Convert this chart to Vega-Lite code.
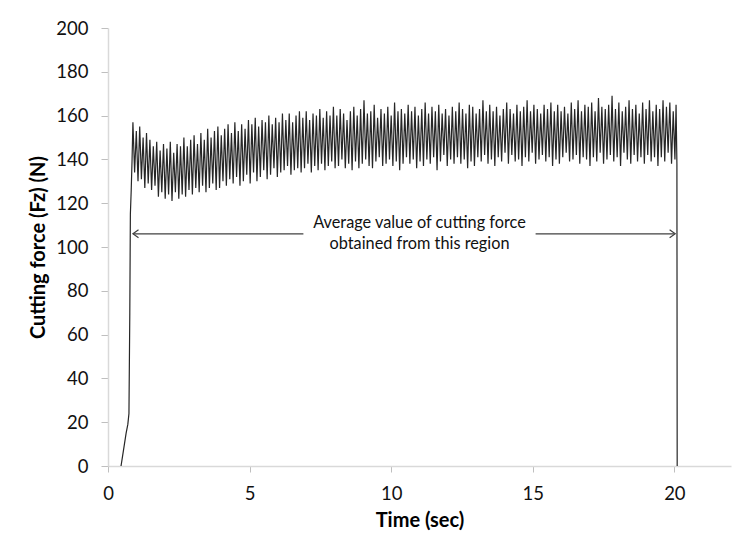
{
  "$schema": "https://vega.github.io/schema/vega-lite/v6.json",
  "width": 623,
  "height": 438,
  "autosize": {"type": "none"},
  "padding": {"left": 108, "top": 28, "right": 13, "bottom": 81},
  "background": "white",
  "config": {
    "font": "Lato",
    "view": {"stroke": null},
    "axis": {"grid": false, "domainColor": "#d9d9d9", "tickColor": "#bfbfbf", "labelColor": "#111", "titleColor": "#000", "labelFont": "Lato", "titleFont": "Lato"}
  },
  "datasets": {
    "signal": [
      {"t":0.46,"f":0},{"t":0.52,"f":5},{"t":0.58,"f":10},{"t":0.64,"f":15},{"t":0.7,"f":19},{"t":0.74,"f":24},{"t":0.77,"f":70},{"t":0.79,"f":115},{"t":0.82,"f":126},{"t":0.85,"f":140},
      {"t":0.88,"f":157},{"t":0.94,"f":134},{"t":1.00,"f":153},{"t":1.06,"f":130},{"t":1.12,"f":155},{"t":1.18,"f":131},{"t":1.24,"f":150},{"t":1.30,"f":127},{"t":1.36,"f":152},{"t":1.42,"f":129},
      {"t":1.48,"f":149},{"t":1.54,"f":126},{"t":1.60,"f":146},{"t":1.66,"f":128},{"t":1.72,"f":148},{"t":1.78,"f":123},{"t":1.84,"f":144},{"t":1.90,"f":125},{"t":1.96,"f":147},{"t":2.02,"f":122},
      {"t":2.08,"f":145},{"t":2.14,"f":124},{"t":2.20,"f":148},{"t":2.26,"f":121},{"t":2.32,"f":143},{"t":2.38,"f":125},{"t":2.44,"f":147},{"t":2.50,"f":122},{"t":2.56,"f":146},{"t":2.62,"f":124},
      {"t":2.68,"f":150},{"t":2.74,"f":123},{"t":2.80,"f":146},{"t":2.86,"f":126},{"t":2.92,"f":149},{"t":2.98,"f":124},{"t":3.04,"f":151},{"t":3.10,"f":127},{"t":3.16,"f":147},{"t":3.22,"f":125},
      {"t":3.28,"f":152},{"t":3.34,"f":128},{"t":3.40,"f":149},{"t":3.46,"f":125},{"t":3.52,"f":154},{"t":3.58,"f":127},{"t":3.64,"f":150},{"t":3.70,"f":129},{"t":3.76,"f":153},{"t":3.82,"f":126},
      {"t":3.88,"f":155},{"t":3.94,"f":127},{"t":4.00,"f":151},{"t":4.06,"f":130},{"t":4.12,"f":154},{"t":4.18,"f":128},{"t":4.24,"f":156},{"t":4.30,"f":131},{"t":4.36,"f":152},{"t":4.42,"f":129},
      {"t":4.48,"f":157},{"t":4.54,"f":132},{"t":4.60,"f":153},{"t":4.66,"f":128},{"t":4.72,"f":156},{"t":4.78,"f":130},{"t":4.84,"f":154},{"t":4.90,"f":133},{"t":4.96,"f":158},{"t":5.02,"f":129},
      {"t":5.08,"f":156},{"t":5.14,"f":134},{"t":5.20,"f":159},{"t":5.26,"f":130},{"t":5.32,"f":155},{"t":5.38,"f":132},{"t":5.44,"f":158},{"t":5.50,"f":135},{"t":5.56,"f":157},{"t":5.62,"f":131},
      {"t":5.68,"f":160},{"t":5.74,"f":133},{"t":5.80,"f":156},{"t":5.86,"f":136},{"t":5.92,"f":159},{"t":5.98,"f":132},{"t":6.04,"f":157},{"t":6.10,"f":134},{"t":6.16,"f":161},{"t":6.22,"f":135},
      {"t":6.28,"f":158},{"t":6.34,"f":137},{"t":6.40,"f":161},{"t":6.46,"f":133},{"t":6.52,"f":157},{"t":6.58,"f":135},{"t":6.64,"f":160},{"t":6.70,"f":136},{"t":6.76,"f":162},{"t":6.82,"f":134},
      {"t":6.88,"f":159},{"t":6.94,"f":136},{"t":7.00,"f":162},{"t":7.06,"f":138},{"t":7.12,"f":158},{"t":7.18,"f":134},{"t":7.24,"f":161},{"t":7.30,"f":137},{"t":7.36,"f":160},{"t":7.42,"f":135},
      {"t":7.48,"f":163},{"t":7.54,"f":138},{"t":7.60,"f":159},{"t":7.66,"f":135},{"t":7.72,"f":162},{"t":7.78,"f":137},{"t":7.84,"f":160},{"t":7.90,"f":139},{"t":7.96,"f":164},{"t":8.02,"f":136},
      {"t":8.08,"f":160},{"t":8.14,"f":137},{"t":8.20,"f":163},{"t":8.26,"f":140},{"t":8.32,"f":161},{"t":8.38,"f":136},{"t":8.44,"f":158},{"t":8.50,"f":138},{"t":8.56,"f":162},{"t":8.62,"f":135},
      {"t":8.68,"f":164},{"t":8.74,"f":139},{"t":8.80,"f":160},{"t":8.86,"f":136},{"t":8.92,"f":163},{"t":8.98,"f":138},{"t":9.04,"f":167},{"t":9.10,"f":140},{"t":9.16,"f":161},{"t":9.22,"f":137},
      {"t":9.28,"f":162},{"t":9.34,"f":136},{"t":9.40,"f":165},{"t":9.46,"f":139},{"t":9.52,"f":159},{"t":9.58,"f":141},{"t":9.64,"f":163},{"t":9.70,"f":137},{"t":9.76,"f":161},{"t":9.82,"f":138},
      {"t":9.88,"f":164},{"t":9.94,"f":140},{"t":10.00,"f":160},{"t":10.06,"f":137},{"t":10.12,"f":166},{"t":10.18,"f":139},{"t":10.24,"f":162},{"t":10.30,"f":135},{"t":10.36,"f":163},{"t":10.42,"f":138},
      {"t":10.48,"f":161},{"t":10.54,"f":141},{"t":10.60,"f":165},{"t":10.66,"f":138},{"t":10.72,"f":162},{"t":10.78,"f":140},{"t":10.84,"f":164},{"t":10.90,"f":136},{"t":10.96,"f":160},{"t":11.02,"f":139},
      {"t":11.08,"f":163},{"t":11.14,"f":137},{"t":11.20,"f":166},{"t":11.26,"f":140},{"t":11.32,"f":161},{"t":11.38,"f":138},{"t":11.44,"f":164},{"t":11.50,"f":141},{"t":11.56,"f":162},{"t":11.62,"f":135},
      {"t":11.68,"f":165},{"t":11.74,"f":139},{"t":11.80,"f":161},{"t":11.86,"f":142},{"t":11.92,"f":163},{"t":11.98,"f":137},{"t":12.04,"f":160},{"t":12.10,"f":140},{"t":12.16,"f":164},{"t":12.22,"f":138},
      {"t":12.28,"f":162},{"t":12.34,"f":141},{"t":12.40,"f":166},{"t":12.46,"f":138},{"t":12.52,"f":163},{"t":12.58,"f":140},{"t":12.64,"f":161},{"t":12.70,"f":136},{"t":12.76,"f":165},{"t":12.82,"f":139},
      {"t":12.88,"f":164},{"t":12.94,"f":137},{"t":13.00,"f":161},{"t":13.06,"f":141},{"t":13.12,"f":163},{"t":13.18,"f":139},{"t":13.24,"f":167},{"t":13.30,"f":142},{"t":13.36,"f":162},{"t":13.42,"f":138},
      {"t":13.48,"f":165},{"t":13.54,"f":140},{"t":13.60,"f":162},{"t":13.66,"f":137},{"t":13.72,"f":164},{"t":13.78,"f":141},{"t":13.84,"f":160},{"t":13.90,"f":139},{"t":13.96,"f":163},{"t":14.02,"f":143},
      {"t":14.08,"f":166},{"t":14.14,"f":138},{"t":14.20,"f":163},{"t":14.26,"f":142},{"t":14.32,"f":161},{"t":14.38,"f":139},{"t":14.44,"f":165},{"t":14.50,"f":140},{"t":14.56,"f":162},{"t":14.62,"f":137},
      {"t":14.68,"f":164},{"t":14.74,"f":141},{"t":14.80,"f":167},{"t":14.86,"f":139},{"t":14.92,"f":162},{"t":14.98,"f":143},{"t":15.04,"f":165},{"t":15.10,"f":138},{"t":15.16,"f":163},{"t":15.22,"f":140},
      {"t":15.28,"f":161},{"t":15.34,"f":142},{"t":15.40,"f":165},{"t":15.46,"f":139},{"t":15.52,"f":163},{"t":15.58,"f":141},{"t":15.64,"f":166},{"t":15.70,"f":137},{"t":15.76,"f":162},{"t":15.82,"f":140},
      {"t":15.88,"f":165},{"t":15.94,"f":138},{"t":16.00,"f":162},{"t":16.06,"f":141},{"t":16.12,"f":164},{"t":16.18,"f":143},{"t":16.24,"f":161},{"t":16.30,"f":139},{"t":16.36,"f":166},{"t":16.42,"f":140},
      {"t":16.48,"f":163},{"t":16.54,"f":142},{"t":16.60,"f":167},{"t":16.66,"f":138},{"t":16.72,"f":162},{"t":16.78,"f":141},{"t":16.84,"f":165},{"t":16.90,"f":140},{"t":16.96,"f":164},{"t":17.02,"f":137},
      {"t":17.08,"f":166},{"t":17.14,"f":141},{"t":17.20,"f":162},{"t":17.26,"f":139},{"t":17.32,"f":168},{"t":17.38,"f":143},{"t":17.44,"f":164},{"t":17.50,"f":138},{"t":17.56,"f":163},{"t":17.62,"f":140},
      {"t":17.68,"f":165},{"t":17.74,"f":142},{"t":17.80,"f":169},{"t":17.86,"f":139},{"t":17.92,"f":163},{"t":17.98,"f":141},{"t":18.04,"f":166},{"t":18.10,"f":137},{"t":18.16,"f":162},{"t":18.22,"f":143},
      {"t":18.28,"f":164},{"t":18.34,"f":140},{"t":18.40,"f":167},{"t":18.46,"f":138},{"t":18.52,"f":163},{"t":18.58,"f":142},{"t":18.64,"f":165},{"t":18.70,"f":139},{"t":18.76,"f":161},{"t":18.82,"f":141},
      {"t":18.88,"f":166},{"t":18.94,"f":138},{"t":19.00,"f":163},{"t":19.06,"f":142},{"t":19.12,"f":167},{"t":19.18,"f":139},{"t":19.24,"f":162},{"t":19.30,"f":141},{"t":19.36,"f":165},{"t":19.42,"f":137},
      {"t":19.48,"f":163},{"t":19.54,"f":141},{"t":19.60,"f":167},{"t":19.66,"f":139},{"t":19.72,"f":164},{"t":19.78,"f":143},{"t":19.84,"f":166},{"t":19.90,"f":138},{"t":19.96,"f":162},{"t":20.02,"f":140},
      {"t":20.06,"f":165},{"t":20.09,"f":138},{"t":20.1,"f":0}
    ],
    "arrowLine": [
      {"x":0.9,"x2":6.9,"y":106},
      {"x":15.1,"x2":20.0,"y":106}
    ],
    "arrowHeads": [
      {"x":0.88,"y":106,"dir":"left"},
      {"x":20.03,"y":106,"dir":"right"}
    ],
    "label": [
      {"x":11.0,"y":110.8,"text":"Average value of cutting force"},
      {"x":11.0,"y":101.4,"text":"obtained from this region"}
    ]
  },
  "layer": [
    {
      "data": {"name": "signal"},
      "mark": {"type": "line", "color": "#262626", "strokeWidth": 1.2, "interpolate": "linear"},
      "encoding": {
        "x": {
          "field": "t", "type": "quantitative",
          "scale": {"domain": [0, 22], "nice": false, "zero": false},
          "axis": {"values": [0, 5, 10, 15, 20], "title": "Time (sec)", "titleFontSize": 20, "titleFontWeight": "bold", "titlePadding": 8, "labelFontSize": 18.5, "labelFontWeight": "normal", "tickSize": 6, "labelPadding": 12, "domainColor": "#d9d9d9", "domainWidth": 1.5, "labelFlush": false}
        },
        "y": {
          "field": "f", "type": "quantitative",
          "scale": {"domain": [0, 200], "nice": false},
          "axis": {"values": [0, 20, 40, 60, 80, 100, 120, 140, 160, 180, 200], "title": "Cutting force (Fz) (N)", "titleFontSize": 20, "titleFontWeight": "bold", "titlePadding": 7, "labelFontSize": 18.5, "tickSize": 7, "labelPadding": 13, "domainColor": "#d9d9d9", "domainWidth": 1.5}
        },
        "order": {"field": "t", "type": "quantitative"}
      }
    },
    {
      "data": {"name": "arrowLine"},
      "mark": {"type": "rule", "color": "#404040", "strokeWidth": 1.2},
      "encoding": {
        "x": {"field": "x", "type": "quantitative"},
        "x2": {"field": "x2"},
        "y": {"field": "y", "type": "quantitative"}
      }
    },
    {
      "data": {"name": "arrowHeads"},
      "mark": {"type": "point", "filled": false, "stroke": "#404040", "strokeWidth": 1.2, "opacity": 1, "size": 64},
      "encoding": {
        "x": {"field": "x", "type": "quantitative"},
        "y": {"field": "y", "type": "quantitative"},
        "shape": {
          "field": "dir", "type": "nominal", "legend": null,
          "scale": {"domain": ["left", "right"], "range": ["M 1.4 -1 L 0 0 L 1.4 1", "M -1.4 -1 L 0 0 L -1.4 1"]}
        }
      }
    },
    {
      "data": {"name": "label"},
      "mark": {"type": "text", "font": "Lato", "fontSize": 16.3, "color": "#111", "align": "center", "baseline": "middle"},
      "encoding": {
        "x": {"field": "x", "type": "quantitative"},
        "y": {"field": "y", "type": "quantitative"},
        "text": {"field": "text"}
      }
    }
  ]
}
